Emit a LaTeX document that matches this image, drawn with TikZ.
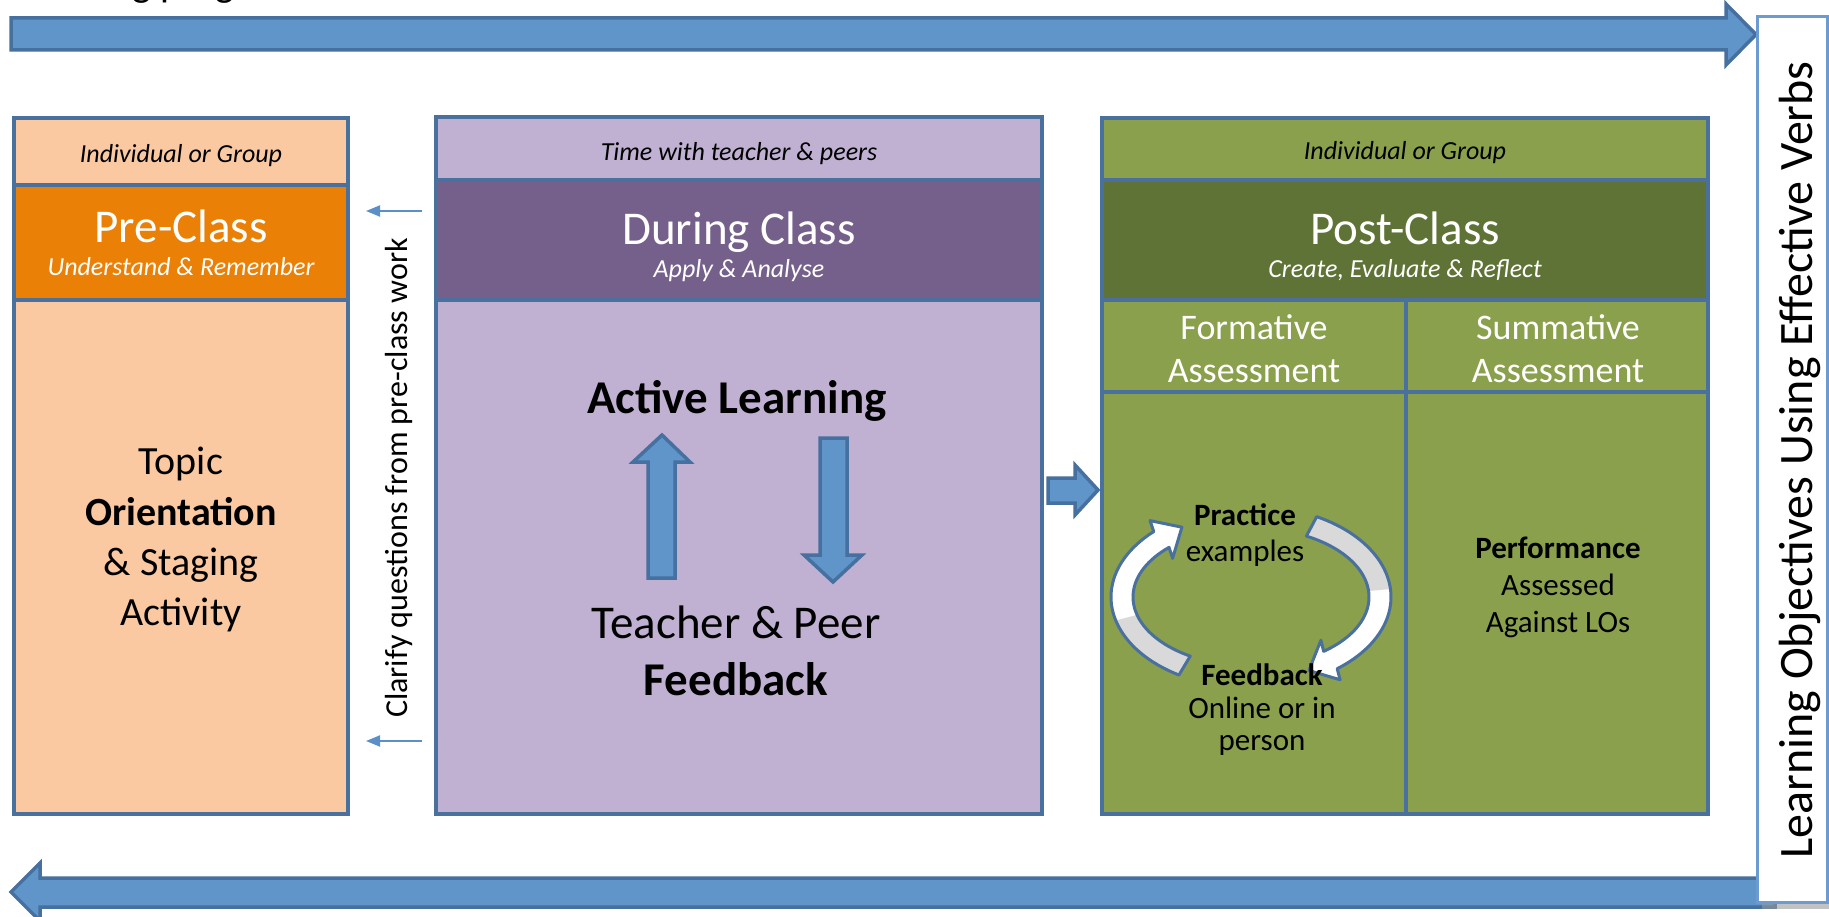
\documentclass[tikz,border=0pt]{standalone}
\usepackage{fontspec}
\setmainfont{Carlito}
\usetikzlibrary{arrows.meta}
\definecolor{bord}{HTML}{4A709E}
\definecolor{arrfill}{HTML}{5F95C8}
\definecolor{arrline}{HTML}{46709F}
\definecolor{lobox}{HTML}{6C9BD2}
\definecolor{peach}{HTML}{FAC9A1}
\definecolor{orng}{HTML}{EA8006}
\definecolor{lav}{HTML}{C0B1D3}
\definecolor{purp}{HTML}{755F8B}
\definecolor{olive}{HTML}{8AA04C}
\definecolor{dolive}{HTML}{5F7336}
\definecolor{shade}{HTML}{D9D9D9}
\definecolor{clar}{HTML}{5B8FC8}
\newcommand{\fsz}[1]{\fontsize{#1}{#1}\selectfont}
\begin{document}
\begin{tikzpicture}[x=1pt,y=-1pt,
  panelline/.style={draw=bord,line width=4.5pt},
  blockarrow/.style={fill=arrfill,draw=arrline,line width=3.5pt,line join=miter},
  txt/.style={inner sep=0pt,anchor=base},
  clararrow/.style={draw=clar,line width=2pt,-{Triangle[length=14pt,width=11pt]}},
  cycband/.style={draw=bord,line width=3pt,line join=round}]
\useasboundingbox (0,0) rectangle (1829,917);
\clip (0,0) rectangle (1829,917);

% top cut-off text
\node[inner sep=0pt,anchor=base west,font=\fsz{40}] (toptext) at (11,-3) {Learning progression};

% long arrows
\path[blockarrow] (11,18) -- (1726,18) -- (1726,4) -- (1756,34.5) -- (1726,65) -- (1726,50) -- (11,50) -- cycle;
\path[blockarrow] (1775,878) -- (40,878) -- (40,863) -- (11,892) -- (40,921) -- (40,907) -- (1775,907) -- cycle;

% Learning objectives box
\fill[black!40,opacity=.6] (1762,22) rectangle (1840,909);
\draw[fill=white,draw=lobox,line width=3pt] (1757,17) rectangle (1827,902);
\node[inner sep=0pt,rotate=90,font=\fsz{48}] (lotext) at (1800,460) {Learning Objectives Using Effective Verbs};

% Pre-class panel
\path[panelline,fill=peach] (14,118) rectangle (348,185);
\path[panelline,fill=orng] (14,185) rectangle (348,300);
\path[panelline,fill=peach] (14,300) rectangle (348,814);
\node[txt,font=\fsz{26}\itshape] (preind) at (181,163) {Individual or Group};
\node[txt,font=\fsz{47},text=white] (pretitle) at (181,243) {Pre-Class};
\node[txt,font=\fsz{26}\itshape,text=white] (presub) at (181,276) {Understand \& Remember};
\node[txt,font=\fsz{40}] (pre1) at (181,474) {Topic};
\node[txt,font=\fsz{40}\bfseries] (pre2) at (181,525) {Orientation};
\node[txt,font=\fsz{40}] (pre3) at (181,575) {\& Staging};
\node[txt,font=\fsz{40}] (pre4) at (181,625) {Activity};

% Clarify column
\coordinate (ca1) at (422,211);
\coordinate (ca2) at (366,211);
\coordinate (cb1) at (422,741);
\coordinate (cb2) at (366,741);
\draw[clararrow] (ca1) -- (ca2);
\draw[clararrow] (cb1) -- (cb2);
\node[inner sep=0pt,rotate=90,font=\fsz{32}] (clarify) at (399,478) {Clarify questions from pre-class work};

% During-class panel
\path[panelline,fill=lav] (436,117) rectangle (1042,180);
\path[panelline,fill=purp] (436,180) rectangle (1042,300);
\path[panelline,fill=lav] (436,300) rectangle (1042,814);
\node[txt,font=\fsz{26}\itshape] (durind) at (739,161) {Time with teacher \& peers};
\node[txt,font=\fsz{47},text=white] (durtitle) at (739,245) {During Class};
\node[txt,font=\fsz{26}\itshape,text=white] (dursub) at (739,278) {Apply \& Analyse};
\node[txt,font=\fsz{47}\bfseries] (active) at (737,413) {Active Learning};
\node[txt,font=\fsz{47}] (teach) at (736,638) {Teacher \& Peer};
\node[txt,font=\fsz{47}\bfseries] (feed) at (736,695) {Feedback};
\path[blockarrow] (648,578) -- (648,462) -- (633,462) -- (662,435) -- (690,462) -- (675,462) -- (675,578) -- cycle;
\path[blockarrow] (820,438) -- (847,438) -- (847,555) -- (862,555) -- (833,582) -- (804,555) -- (820,555) -- cycle;

% arrow to post-class
\path[blockarrow] (1048,478) -- (1075,478) -- (1075,465) -- (1098,490) -- (1075,515) -- (1075,503) -- (1048,503) -- cycle;

% Post-class panel
\path[panelline,fill=olive] (1102,118) rectangle (1708,180);
\path[panelline,fill=dolive] (1102,180) rectangle (1708,300);
\path[panelline,fill=olive] (1102,300) rectangle (1406,392);
\path[panelline,fill=olive] (1406,300) rectangle (1708,392);
\path[panelline,fill=olive] (1102,392) rectangle (1406,814);
\path[panelline,fill=olive] (1406,392) rectangle (1708,814);
\node[txt,font=\fsz{26}\itshape] (postind) at (1405,160) {Individual or Group};
\node[txt,font=\fsz{47},text=white] (posttitle) at (1405,245) {Post-Class};
\node[txt,font=\fsz{26}\itshape,text=white] (postsub) at (1405,278) {Create, Evaluate \& Reflect};
\node[txt,font=\fsz{36},text=white] (form1) at (1254,340) {Formative};
\node[txt,font=\fsz{36},text=white] (form2) at (1254,382) {Assessment};
\node[txt,font=\fsz{36},text=white] (summ1) at (1558,340) {Summative};
\node[txt,font=\fsz{36},text=white] (summ2) at (1558,382) {Assessment};
\node[txt,font=\fsz{31}\bfseries] (perf) at (1558,558) {Performance};
\node[txt,font=\fsz{31}] (assd) at (1558,595) {Assessed};
\node[txt,font=\fsz{31}] (agst) at (1558,632) {Against LOs};

% cycle arrows (left: Feedback -> Practice)
\path[fill=white] plot[domain=121:226,samples=40] ({1251+140*cos(\x)},{597+91*sin(\x)}) -- (1150.0,520.6) -- (1181.9,527.2) -- (1172.6,558.4) -- plot[domain=226:121,samples=40] ({1251+118*cos(\x)},{597+69*sin(\x)}) -- cycle;
\path[fill=shade] plot[domain=121:165,samples=20] ({1251+140*cos(\x)},{597+91*sin(\x)}) -- plot[domain=165:121,samples=20] ({1251+118*cos(\x)},{597+69*sin(\x)}) -- cycle;
\path[cycband] plot[domain=121:226,samples=40] ({1251+140*cos(\x)},{597+91*sin(\x)}) -- (1150.0,520.6) -- (1181.9,527.2) -- (1172.6,558.4) -- plot[domain=226:121,samples=40] ({1251+118*cos(\x)},{597+69*sin(\x)}) -- cycle;

% cycle arrows (right: Practice -> Feedback)
\path[fill=white] plot[domain=-62:52,samples=50] ({1251+140*cos(\x)},{597+91*sin(\x)}) -- (1340.1,679.8) -- (1308.9,670.5) -- (1320.9,640.2) -- plot[domain=52:-62,samples=50] ({1251+118*cos(\x)},{597+69*sin(\x)}) -- cycle;
\path[fill=shade] plot[domain=-62:-5,samples=25] ({1251+140*cos(\x)},{597+91*sin(\x)}) -- plot[domain=-5:-62,samples=25] ({1251+118*cos(\x)},{597+69*sin(\x)}) -- cycle;
\path[cycband] plot[domain=-62:52,samples=50] ({1251+140*cos(\x)},{597+91*sin(\x)}) -- (1340.1,679.8) -- (1308.9,670.5) -- (1320.9,640.2) -- plot[domain=52:-62,samples=50] ({1251+118*cos(\x)},{597+69*sin(\x)}) -- cycle;

\node[txt,font=\fsz{31}\bfseries] (prac) at (1245,525) {Practice};
\node[txt,font=\fsz{31}] (exam) at (1245,561) {examples};
\node[txt,font=\fsz{31}\bfseries] (fbk) at (1262,685) {Feedback};
\node[txt,font=\fsz{31}] (onl) at (1262,718) {Online or in};
\node[txt,font=\fsz{31}] (pers) at (1262,750) {person};
\end{tikzpicture}
\end{document}
